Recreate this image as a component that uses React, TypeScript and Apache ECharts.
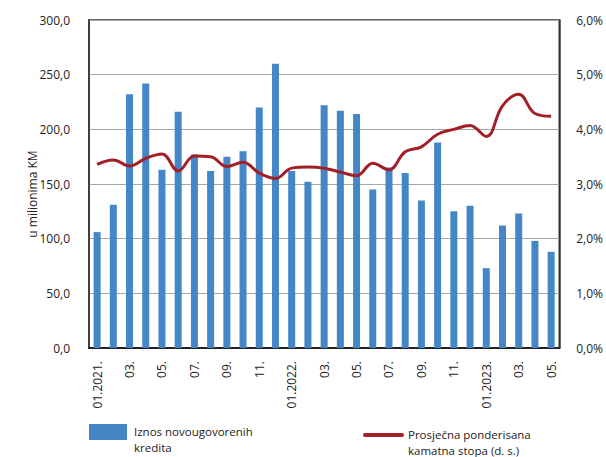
import React, { useEffect, useRef } from "react";
import * as echarts from "echarts";

const categories = [
  "01.2021.", "02.", "03.", "04.", "05.", "06.", "07.", "08.", "09.", "10.", "11.", "12.",
  "01.2022.", "02.", "03.", "04.", "05.", "06.", "07.", "08.", "09.", "10.", "11.", "12.",
  "01.2023.", "02.", "03.", "04.", "05.",
];

const loanAmounts = [
  106, 131, 232, 242, 163, 216, 177, 162, 175, 180, 220, 260,
  162, 152, 222, 217, 214, 145, 165, 160, 135, 188, 125, 130,
  73, 112, 123, 98, 88,
];

const interestRate = [
  3.36, 3.44, 3.33, 3.47, 3.55, 3.24, 3.51, 3.5, 3.32, 3.4, 3.2, 3.1,
  3.29, 3.31, 3.29, 3.22, 3.15, 3.38, 3.26, 3.59, 3.68, 3.91, 4.0, 4.07,
  3.87, 4.43, 4.64, 4.29, 4.24,
];

const legendLines1 = ["Iznos novougovorenih", "kredita"];
const legendLines2 = ["Prosječna ponderisana", "kamatna stopa (d. s.)"];
const leftAxisName = "u milionima KM";

const BAR_COLOR = "#4587C6";
const LINE_COLOR = "#A31F28";
const FONT = "Open Sans";

const fmt1 = (v: number) => v.toFixed(1).replace(".", ",");

const legendText = (x: number, y: number, text: string) => ({
  type: "text",
  x,
  y,
  style: {
    text,
    fontSize: 11.5,
    fontFamily: FONT,
    lineHeight: 14,
    fill: "#222",
  },
});

export default function App() {
  const ref = useRef<HTMLDivElement>(null);
  useEffect(() => {
    document.body.style.margin = "0";
    if (!ref.current) return;
    const chart = echarts.init(ref.current, undefined, { renderer: "svg" });
    chart.setOption({
      animation: false,
      textStyle: { fontFamily: FONT },
      grid: {
        left: 89,
        right: 46,
        top: 20,
        bottom: 109,
        show: true,
        borderColor: "#333",
        borderWidth: 1.5,
      },
      xAxis: {
        type: "category",
        data: categories,
        boundaryGap: true,
        axisLine: { show: true, lineStyle: { color: "#222", width: 2 } },
        axisTick: { show: false },
        axisLabel: {
          interval: 1,
          rotate: 90,
          margin: 13,
          fontSize: 12,
          color: "#222",
          fontFamily: FONT,
        },
      },
      yAxis: [
        {
          type: "value",
          min: 0,
          max: 300,
          interval: 50,
          name: leftAxisName,
          nameLocation: "middle",
          nameGap: 51,
          nameMoveOverlap: false,
          nameTextStyle: {
            fontSize: 12,
            color: "#222",
            fontFamily: FONT,
            padding: [0, 20, 0, 0],
          },
          axisLine: { show: true, lineStyle: { color: "#333", width: 1.5 } },
          axisTick: { show: false },
          splitLine: { show: true, lineStyle: { color: "#A6A6A6", width: 1 } },
          axisLabel: {
            margin: 19,
            fontSize: 12,
            color: "#222",
            fontFamily: FONT,
            formatter: (v: number) => fmt1(v),
          },
        },
        {
          type: "value",
          min: 0,
          max: 6,
          interval: 1,
          position: "right",
          axisLine: { show: true, lineStyle: { color: "#333", width: 1.5 } },
          axisTick: { show: false },
          splitLine: { show: false },
          axisLabel: {
            margin: 17,
            fontSize: 12,
            color: "#222",
            fontFamily: FONT,
            formatter: (v: number) => fmt1(v) + "%",
          },
        },
      ],
      series: [
        {
          name: legendLines1.join(" "),
          type: "bar",
          data: loanAmounts,
          barWidth: 7,
          itemStyle: { color: BAR_COLOR },
          yAxisIndex: 0,
        },
        {
          name: legendLines2.join(" "),
          type: "line",
          data: interestRate,
          yAxisIndex: 1,
          smooth: 0.4,
          symbol: "none",
          lineStyle: { color: LINE_COLOR, width: 3 },
          itemStyle: { color: LINE_COLOR },
        },
      ],
      graphic: [
        {
          type: "rect",
          shape: { x: 89, y: 424, width: 38, height: 16 },
          style: { fill: BAR_COLOR },
        },
        legendText(134, 424, legendLines1[0]),
        legendText(134, 440, legendLines1[1]),
        {
          type: "line",
          shape: { x1: 365, y1: 435, x2: 402, y2: 435 },
          style: { stroke: LINE_COLOR, lineWidth: 4, lineCap: "round" },
        },
        legendText(408, 427, legendLines2[0]),
        legendText(408, 443, legendLines2[1]),
      ],
    });
    return () => chart.dispose();
  }, []);
  return <div ref={ref} style={{ width: 606, height: 457 }} />;
}
